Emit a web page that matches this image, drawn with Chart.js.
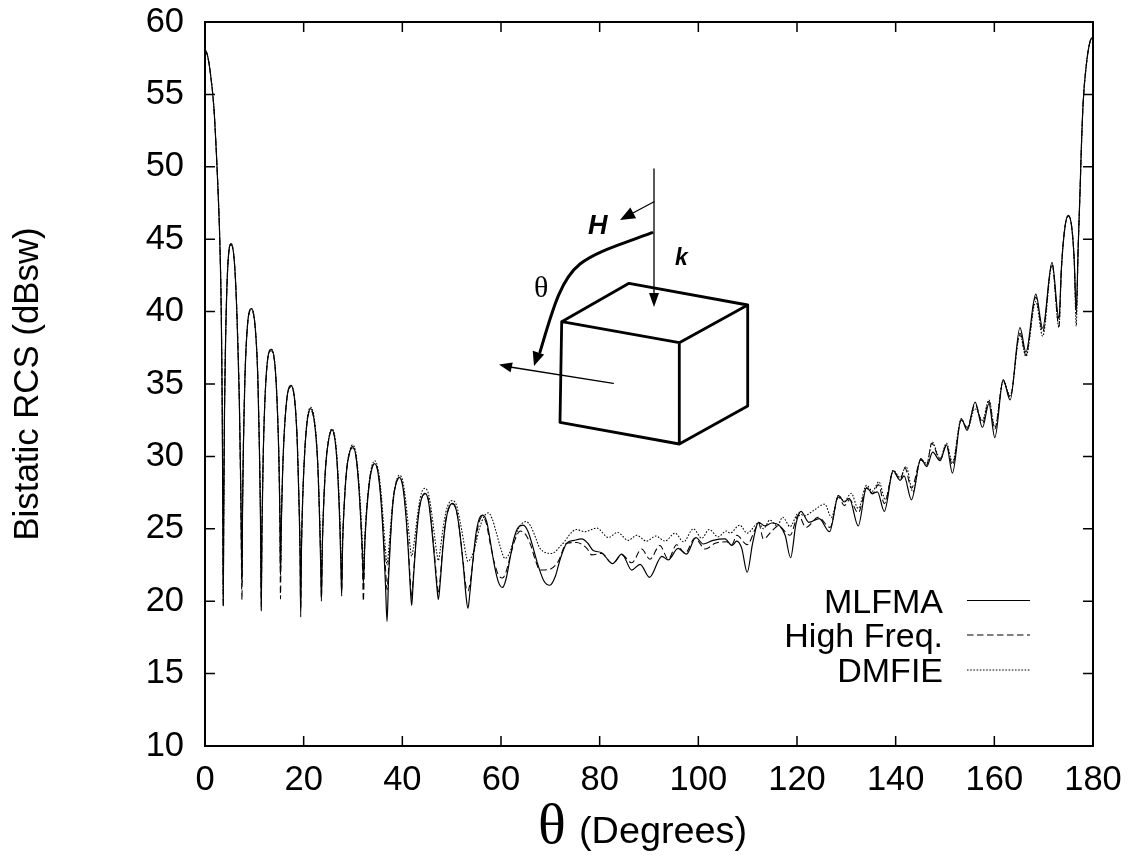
<!DOCTYPE html>
<html>
<head>
<meta charset="utf-8">
<style>html,body{margin:0;padding:0;background:#fff}canvas{display:block}</style>
<script src="https://cdn.jsdelivr.net/npm/chart.js@4"></script>
</head>
<body>
<canvas id="c" width="1133" height="857"></canvas>
<script>
// Angles shared by the three curves in the lobed region (one row per lobe)
const thetaLobes = [
 0,0.5,1,1.8,2.3,2.7,3.0,3.3,3.5,3.6,3.7,
 3.8,3.95,4.2,4.6,5.3,6.0,6.5,6.95,7.25,7.5,
 7.6,7.8,8.1,8.6,9.4,10.2,10.7,11.0,11.25,11.4,
 11.55,11.8,12.1,12.6,13.4,14.2,14.7,15.0,15.2,15.3,
 15.45,15.7,16.0,16.6,17.4,18.2,18.7,19.0,19.25,19.4,
 19.55,19.8,20.2,20.7,21.4,22.2,22.8,23.2,23.45,23.6,
 23.8,24.1,24.5,25,25.7,26.4,26.9,27.3,27.55,27.7,
 27.9,28.2,28.7,29.2,29.9,30.6,31.2,31.7,31.95,32.1,
 32.4,32.8,33.3,33.8,34.4,35.1,35.7,36.2,36.6,36.9,
 37.2,37.6,38.1,38.7,39.4,40.1,40.7,41.2,41.6,41.9,
 42.2,42.7,43.3,43.9,44.6,45.3,45.9,46.5,47,47.3,
 47.7,48.2,48.8,49.5,50.2,51,51.7,52.4,52.9,53.3
];
const mlfmaLobes = [
 58.1,57.7,56.7,54.1,51,47.9,44.9,39.9,33,27,19.7,
 26,33,38.5,43,44.7,43.2,39.5,34,28,21.3,
 26,31,35.5,39,40.2,38.8,35.5,31,25.5,19.35,
 25,30,33.5,36.4,37.4,36.2,33,29.5,25.5,21.8,
 25,28.5,31.2,34,34.9,33.8,31,27.5,23.5,18.9,
 23.5,27,30.2,32.4,33.3,32.3,29.8,26,22.5,20,
 24,27,29.5,31,31.85,31,28.8,25.5,22.5,20.35,
 24,26.5,29,30.1,30.7,30,27.8,24.8,23,21.2,
 24,26.3,28.1,29.1,29.5,28.8,26.8,24,21,18.6,
 21.5,24.3,26.8,28.1,28.55,27.9,26,23.5,21,19.7,
 21.3,23.8,26,27.1,27.45,26.9,25.2,23,21,20.1,
 21.4,23.6,25.5,26.5,26.75,26.2,24.6,22.3,20.4,19.5
];
const highFreqLobes = [
 58.1,57.7,56.7,54.1,51,47.9,44.9,39.9,33,27,19.6,
 26,33,38.5,43,44.6,43.2,39.5,34,27,20.1,
 26,31,35.5,39,40.1,38.8,35.5,31,26,19.6,
 25,30,33.5,36.4,37.3,36.2,33,29.5,24.5,20.15,
 25,28.5,31.2,34,34.8,33.8,31,27.5,23.8,19.5,
 23.5,27,30.2,32.4,33.2,32.3,29.8,26,22.8,20.2,
 24,27,29.5,31,31.8,31,28.9,25.7,22.8,20.7,
 24,26.5,29,30.1,30.6,30,27.9,24.5,22,20,
 24,26.4,28.2,29.2,29.5,28.9,27,24.5,22.2,20.8,
 22.2,24.5,26.9,28.1,28.5,28,26.2,23.8,21.5,20.2,
 21.6,24,26.1,27.1,27.4,27,25.4,23.3,21.4,20.5,
 21.7,23.8,25.6,26.5,26.7,26.2,24.6,22.5,21,20.7
];
const dmfieLobes = [
 58.1,57.7,56.7,54.1,51,47.9,44.9,39.9,33,27,20,
 26,33,38.5,43,44.7,43.3,39.6,34,28,21.8,
 26,31,35.5,39,40.2,38.9,35.6,31.2,26,21,
 25,30,33.5,36.4,37.4,36.3,33.1,29.7,26,22.2,
 25,28.5,31.2,34,34.9,33.9,31.1,27.8,24.5,21.5,
 23.8,27.2,30.3,32.5,33.4,32.5,30,26.5,23.5,21.5,
 24.2,27.2,29.6,31.1,31.9,31.2,29.2,26.2,23.5,21.5,
 24.3,26.7,29.1,30.2,30.8,30.2,28.2,25.5,23.6,22,
 24.5,26.6,28.3,29.3,29.7,29.1,27.5,25.3,23.5,22.5,
 23.4,25.1,27,28.2,28.7,28.3,26.9,25.2,23.7,23.1,
 23.6,24.9,26.5,27.5,27.8,27.4,26.2,24.6,23.3,22.8,
 23.6,24.9,26.1,26.8,26.95,26.6,25.5,24.2,23.2,22.75
];
// Angles and values of each curve beyond the lobed region
const thetaMlfmaTail = [53.7,54.3,54.9,55.6,56.3,57.1,57.9,58.7,59.5,60.3,61,61.8,62.6,63.5,64.5,65.5,66.5,67.5,68.7,69.9,71,72,73.3,74.8,76.4,77.6,78.7,80.4,82.6,84.5,86.5,88.2,90.1,92.6,93.9,95.9,97.6,99.5,101,103,105.4,106.8,107.8,108.8,109.9,111,112.2,113.5,114.9,116.5,117.6,118.7,119.8,120.8,122.4,124.5,126.6,128.4,129.6,130.6,132.4,134.1,135.3,136.3,137.7,139.5,140.9,141.7,143.2,145.1,146.3,147.5,149,150.3,151.5,153.3,154.5,156.1,157.6,158.9,160.1,161.8,163.2,165.2,166.4,168.4,169.8,171.7,173.1,173.6,174.3,175,175.7,176.2,176.6,177,177.4,177.6,178,178.7,179.4,180];
const mlfmaTail = [20.6,22.8,24.6,25.7,25.95,25.5,24,22.4,21.3,20.95,21.5,22.9,24.3,25.1,25.25,24.8,23.7,22.5,21.4,21.1,21.7,22.9,24,24.2,24.3,24,23.5,23.35,22.6,23.25,22.15,22.55,21.65,23.1,22.85,23.65,23.25,24.4,23.95,24.2,24.3,23.85,24.15,23.65,22,24,25.45,25.2,25.4,25.2,24.55,23,25.35,26.2,25.45,25.7,24.8,27.3,26.85,27.1,25.2,27.85,27.45,27.55,26.2,29,28.35,28.65,27,29.85,29.3,30.3,29.7,30.8,28.85,32.6,31.8,33.75,32,33.65,31.3,35.3,33.9,38.9,37.2,41.2,38.85,43.4,39.5,43,45.8,46.65,45.8,43.5,40.1,44.5,48.6,50.9,54.4,57.2,58.65,59];
const thetaHighFreqTail = [53.7,54.3,54.9,55.6,56.2,57,57.8,58.7,59.5,60.3,61,61.8,62.8,63.9,65,66,67,67.9,69.9,71.6,73.3,75.3,77.4,78.4,80.4,82.6,84.5,86.5,88.5,90.2,92.2,93.9,95.6,97.3,99.3,101.4,103.4,105.7,106.8,107.8,109.9,111.5,112.2,113.2,114.9,116.2,118.6,120.3,121.8,124.3,126.7,128.4,129.6,130.7,132.4,134.1,135.3,136.5,137.7,139.5,140.9,141.9,143.2,145.1,146.3,147.3,149,150.3,151.5,153.3,154.5,156.1,157.6,158.9,160.1,161.8,163.2,165.2,166.4,168.4,169.8,171.7,173.1,173.6,174.3,175,175.7,176.2,176.6,177,177.4,177.6,178,178.7,179.4,180];
const highFreqTail = [21.2,22.7,24.3,25.5,25.85,25.4,24,22.6,21.8,21.6,22,23,24.2,24.85,24.6,23.9,22.8,22.15,22.2,22.75,24,24.05,23.65,23.2,23.3,22.6,23.2,22.65,23.6,22.9,23.85,22.9,23.9,23.3,24.35,23.6,24,24.1,23.9,24.55,23.9,24.95,25.4,24.3,24.85,25.2,24.55,25.95,25.1,25.8,25.1,27.2,26.6,27,26.1,27.8,27.4,28.05,26.75,28.95,28.4,29.2,27.8,29.75,29.4,30.9,29.8,30.75,29.4,32.5,32,33.6,32.3,33.8,31.9,35.2,34.1,38.5,37,41,38.6,43.3,39,43,45.8,46.6,45.8,43.5,39.8,44.5,48.6,50.9,54.4,57.2,58.65,59];
const thetaDmfieTail = [54.3,54.9,55.6,56.5,57.4,58.2,59,59.9,60.8,61.7,62.6,63.5,64.2,65.1,66,67,67.9,70.3,72.3,75.3,77,79.4,81.8,83.6,85.8,87.5,89.5,91.4,93.2,95.3,97,99,100.7,102.2,104,105.7,106.4,108.4,109.9,112.2,113.2,114.5,116,117.1,118.6,120.3,121.5,123.3,125.6,127,128.4,129.6,131,132.4,134.1,135.3,136.6,137.9,139.5,140.9,142.1,143.5,145.1,146.3,147.4,149,150.3,151.5,153.3,154.5,156.1,157.6,158.9,160.1,161.8,163.2,165.2,166.4,168.4,169.8,171.7,173.1,173.6,174.3,175,175.7,176.2,176.6,177,177.4,177.6,178,178.7,179.4,180];
const dmfieTail = [23.3,24,25,25.8,26.1,25.7,24.8,23.7,22.95,23.3,24.2,25,25.35,25.5,25.2,24.4,23.65,23.3,23.9,24.95,24.8,25.05,24.4,24.75,24.2,24.55,24.15,24.5,24.15,24.7,24.1,25,24.35,24.95,24.45,24.85,24.7,25.25,24.7,25.4,25,25.6,25.2,25.8,25.15,26.1,25.9,26.25,26.7,25.8,27.3,26.9,27.45,26.4,28,27.6,28.25,27,29.05,28.55,29.3,27.55,29.8,29.5,31,29.85,30.9,29.6,32.6,31.9,33.3,32.5,33.9,32,35.25,34.2,38.4,36.9,40.7,38.3,43.2,38.9,43,45.8,46.6,45.8,43.5,39,44.5,48.6,50.9,54.4,57.2,58.65,59];

const seriesNames = ['MLFMA','High Freq.','DMFIE'];
const xTicks = [0,20,40,60,80,100,120,140,160,180];
const yTicks = [10,15,20,25,30,35,40,45,50,55,60];
const xAxisLabel = '(Degrees)';
const xAxisSymbol = 'θ';
const yAxisLabel = 'Bistatic RCS (dBsw)';

const pts = (xs, ys) => xs.map((x, i) => ({x, y: ys[i]}));
const sans = '"Liberation Sans", Arial, sans-serif';
const lineStyles = [[], [6.5, 3.5], [1.6, 1.6]];
const lineWidths = [1.2, 1.05, 1.05];

const frame = {
  id: 'frame',
  afterDraw(chart) {
    const {ctx, chartArea: a, scales: {x, y}} = chart;
    ctx.save();
    ctx.strokeStyle = '#000';
    ctx.lineWidth = 1.5;
    ctx.setLineDash([]);
    ctx.beginPath();
    xTicks.forEach(v => {
      const p = x.getPixelForValue(v);
      ctx.moveTo(p, a.bottom); ctx.lineTo(p, a.bottom - 10);
      ctx.moveTo(p, a.top); ctx.lineTo(p, a.top + 10);
    });
    yTicks.forEach(v => {
      const p = y.getPixelForValue(v);
      ctx.moveTo(a.left, p); ctx.lineTo(a.left + 10, p);
      ctx.moveTo(a.right, p); ctx.lineTo(a.right - 10, p);
    });
    ctx.stroke();
    ctx.lineWidth = 2;
    ctx.strokeRect(a.left, a.top, a.right - a.left, a.bottom - a.top);
    ctx.restore();
  }
};

const keyAndTitle = {
  id: 'keyAndTitle',
  afterDraw(chart) {
    const {ctx} = chart;
    ctx.save();
    ctx.fillStyle = '#000';
    ctx.textBaseline = 'alphabetic';
    // legend
    ctx.font = '34px ' + sans;
    ctx.textAlign = 'right';
    const rows = [600.5, 635, 670];
    seriesNames.forEach((name, i) => {
      ctx.fillText(name, 943, rows[i] + 12);
      ctx.beginPath();
      ctx.setLineDash(lineStyles[i]);
      ctx.lineWidth = lineWidths[i];
      ctx.strokeStyle = '#000';
      ctx.moveTo(967, rows[i]); ctx.lineTo(1030, rows[i]);
      ctx.stroke();
    });
    ctx.setLineDash([]);
    // x axis title
    ctx.textAlign = 'left';
    ctx.font = '58px "Liberation Serif", serif';
    ctx.fillText(xAxisSymbol, 538, 843);
    ctx.font = '37.8px ' + sans;
    ctx.fillText(xAxisLabel, 579, 843);
    ctx.restore();
  }
};

const inset = {
  id: 'inset',
  afterDraw(chart) {
    const {ctx} = chart;
    const head = (tx, ty, fx, fy, len, half) => {
      const d = Math.hypot(tx - fx, ty - fy), ux = (tx - fx) / d, uy = (ty - fy) / d;
      ctx.beginPath();
      ctx.moveTo(tx, ty);
      ctx.lineTo(tx - ux * len - uy * half, ty - uy * len + ux * half);
      ctx.lineTo(tx - ux * len + uy * half, ty - uy * len - ux * half);
      ctx.closePath();
      ctx.fill();
    };
    const seg = (x1, y1, x2, y2) => {
      ctx.beginPath(); ctx.moveTo(x1, y1); ctx.lineTo(x2, y2); ctx.stroke();
    };
    ctx.save();
    ctx.fillStyle = '#000';
    ctx.strokeStyle = '#000';
    ctx.lineCap = 'round';
    ctx.lineJoin = 'round';
    // cube
    ctx.lineWidth = 2.8;
    ctx.beginPath();
    ctx.moveTo(561.7, 321.7); ctx.lineTo(629, 283.3); ctx.lineTo(747.7, 305);
    ctx.lineTo(679.3, 342.7); ctx.lineTo(561.7, 321.7); ctx.lineTo(560, 422.3);
    ctx.lineTo(679.3, 444); ctx.lineTo(747.7, 406); ctx.lineTo(747.7, 305);
    ctx.moveTo(679.3, 342.7); ctx.lineTo(679.3, 444);
    ctx.stroke();
    // incident and scattered directions
    ctx.lineWidth = 1.3;
    seg(654, 169, 654, 296);
    head(654, 307, 654, 296, 14, 5);
    seg(654, 201.7, 632, 213.5);
    head(620, 220, 632, 213.5, 15, 6);
    seg(613.3, 383.3, 510, 367);
    head(499, 364.5, 510, 367, 13, 5);
    // theta sweep
    ctx.lineWidth = 3;
    ctx.beginPath();
    ctx.moveTo(652, 232.7);
    ctx.bezierCurveTo(620, 245, 597, 251, 580, 264);
    ctx.bezierCurveTo(560, 280, 552, 312, 540, 352);
    ctx.stroke();
    head(534, 366, 539, 351, 14, 6);
    // labels
    ctx.font = 'italic bold 27px ' + sans;
    ctx.textAlign = 'left';
    ctx.fillText('H', 588, 234);
    ctx.font = 'italic bold 23px ' + sans;
    ctx.fillText('k', 675, 265);
    ctx.font = '30px "Liberation Serif", serif';
    ctx.fillText('θ', 534, 297);
    ctx.restore();
  }
};

new Chart(document.getElementById('c'), {
  type: 'line',
  data: {
    datasets: [
      {label: seriesNames[2], data: pts(thetaLobes.concat(thetaDmfieTail), dmfieLobes.concat(dmfieTail)), borderDash: lineStyles[2], borderWidth: lineWidths[2]},
      {label: seriesNames[1], data: pts(thetaLobes.concat(thetaHighFreqTail), highFreqLobes.concat(highFreqTail)), borderDash: lineStyles[1], borderWidth: lineWidths[1]},
      {label: seriesNames[0], data: pts(thetaLobes.concat(thetaMlfmaTail), mlfmaLobes.concat(mlfmaTail)), borderDash: lineStyles[0], borderWidth: lineWidths[0]}
    ].map(d => Object.assign(d, {borderColor: '#000', backgroundColor: '#000', pointRadius: 0, fill: false, cubicInterpolationMode: 'monotone'}))
  },
  options: {
    responsive: false,
    animation: false,
    devicePixelRatio: 1,
    layout: {autoPadding: false, padding: {top: 22, right: 40, left: 0, bottom: 0}},
    plugins: {legend: {display: false}, tooltip: {enabled: false}},
    scales: {
      x: {
        type: 'linear', min: 0, max: 180,
        afterFit(s) { s.height = 111; s.paddingLeft = 0; s.paddingRight = 0; },
        afterBuildTicks(s) { s.ticks = xTicks.map(value => ({value})); },
        grid: {display: false, drawTicks: false},
        border: {display: false},
        ticks: {color: '#000', font: {family: sans, size: 34.5}, padding: 14, maxRotation: 0, autoSkip: false}
      },
      y: {
        min: 10, max: 60,
        afterFit(s) { s.width = 205; s.paddingTop = 0; s.paddingBottom = 0; },
        afterBuildTicks(s) { s.ticks = yTicks.map(value => ({value})); },
        grid: {display: false, drawTicks: false},
        border: {display: false},
        ticks: {color: '#000', font: {family: sans, size: 34.5}, padding: 21, autoSkip: false},
        title: {display: true, text: yAxisLabel, color: '#000', font: {family: sans, size: 34.8}, padding: {top: 8, bottom: 0}}
      }
    }
  },
  plugins: [frame, keyAndTitle, inset]
});
</script>
</body>
</html>
